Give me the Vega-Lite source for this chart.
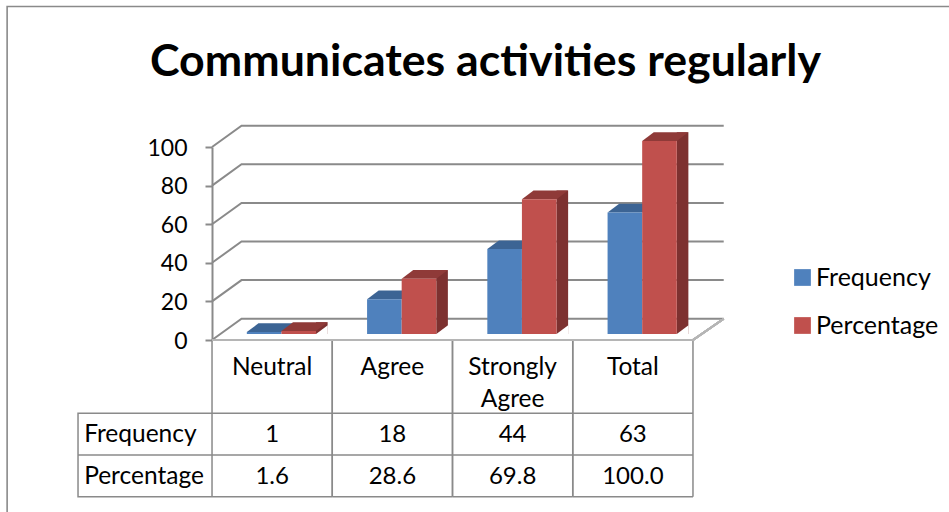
{
"$schema":"https://vega.github.io/schema/vega-lite/v6.json",
"width":481,"height":193,
"autosize":{"type":"none"},
"padding":{"left":212,"top":147,"right":256,"bottom":172},
"background":"white",
"title":{"text":"Communicates activities regularly","font":"Lato","fontSize":44.7,"fontWeight":"bold","color":"black","anchor":"middle","dx":33,"offset":-82},
"config":{"view":{"stroke":null},"font":"Lato"},
"datasets":{
"main":[
{"category":"Neutral","series":"Frequency","value":1},
{"category":"Agree","series":"Frequency","value":18},
{"category":"Strongly Agree","series":"Frequency","value":44},
{"category":"Total","series":"Frequency","value":63},
{"category":"Neutral","series":"Percentage","value":1.6},
{"category":"Agree","series":"Percentage","value":28.6},
{"category":"Strongly Agree","series":"Percentage","value":69.8},
{"category":"Total","series":"Percentage","value":100.0}
],
"ticks":[{"tick":0},{"tick":20},{"tick":40},{"tick":60},{"tick":80},{"tick":100}]
},
"data":{"name":"main"},
"resolve":{"scale":{"y":"shared","x":"shared","color":"shared"}},
"layer":[
{"data":{"name":"ticks"},"mark":{"type":"point","filled":false,"opacity":1,"size":4,"stroke":"#8a8a8a","strokeWidth":2,"shape":"M-60.1,0L-30.6,-21.3H451.6"},
 "encoding":{"x":{"datum":"Neutral","type":"nominal","scale":{"domain":["Neutral","Agree","Strongly Agree","Total"],"paddingInner":0,"paddingOuter":0},
   "axis":{"title":null,"ticks":false,"domain":false,"labelAngle":0,"labelFont":"Lato","labelFontSize":24.5,"labelColor":"black","labelPadding":15,"labelLineHeight":32,"labelLimit":0,"labelBaseline":"top","labelExpr":"split(datum.label,' ')"}},
   "y":{"field":"tick","type":"quantitative","scale":{"domain":[0,100],"nice":false},
   "axis":{"title":null,"values":[0,20,40,60,80,100],"tickCount":6,"grid":false,"labelOverlap":false,"domainColor":"#8a8a8a","domainWidth":2,"tickColor":"#8a8a8a","tickWidth":2,"tickSize":7,"labelFont":"Lato","labelFontSize":23,"labelColor":"black","labelPadding":18,"labelOffset":1}}}},
{"mark":{"type":"point","filled":false,"opacity":1,"size":4,"stroke":"#b5b5b5","strokeWidth":2,"shape":"M-60.1,0H420.8L451.6,-21.3"},
 "encoding":{"x":{"datum":"Neutral","type":"nominal"},"y":{"datum":0,"type":"quantitative"}}},
{"transform":[{"filter":"datum.series==='Frequency'"}],"mark":{"type":"point","filled":false,"opacity":1,"size":4,"stroke":"#8a8a8a","strokeWidth":1.5,"shape":"M-60.1,1V156.7M60.1,1V156.7M-60.1,73.3H60.1M-60.1,115H60.1M-60.1,156.7H60.1"},
 "encoding":{"x":{"field":"category","type":"nominal"},"y":{"datum":0,"type":"quantitative"}}},
{"transform":[{"filter":"datum.series==='Frequency' && datum.category==='Neutral'"}],"mark":{"type":"point","filled":false,"opacity":1,"size":4,"stroke":"#8a8a8a","strokeWidth":1.5,"shape":"M-60.1,73.3H-194.1V156.7H-60.1M-194.1,115H-60.1"},
 "encoding":{"x":{"field":"category","type":"nominal"},"y":{"datum":0,"type":"quantitative"}}},
{"transform":[{"filter":"datum.series==='Frequency' && datum.category==='Neutral'"}],"mark":{"type":"point","filled":false,"opacity":1,"size":4,"stroke":"#8a8a8a","strokeWidth":1.6,"shape":"M-265,172V-333.5H677"},
 "encoding":{"x":{"field":"category","type":"nominal"},"y":{"datum":0,"type":"quantitative"}}},
{"transform":[{"filter":"datum.series==='Frequency'"}],"mark":{"type":"point","filled":true,"opacity":1,"size":4,"strokeWidth":0,"color":"#3c6494","shape":"M-25.3,-6L-13.7,-14.7H20.9L9.3,-6Z"},
 "encoding":{"x":{"field":"category","type":"nominal"},"y":{"field":"value","type":"quantitative"}}},
{"transform":[{"filter":"datum.series==='Frequency'"}],"mark":{"type":"bar","width":34.6,"xOffset":-8,"yOffset":-6,"y2Offset":-6},
 "encoding":{"x":{"field":"category","type":"nominal"},"y":{"field":"value","type":"quantitative","stack":null},"y2":{"datum":0},
 "color":{"field":"series","type":"nominal","scale":{"domain":["Frequency","Percentage"],"range":["#4f81bd","#c0504d"]},
 "legend":{"title":null,"orient":"none","legendX":578,"legendY":118,"symbolType":"square","symbolSize":280,"symbolStrokeWidth":0,"labelFont":"Lato","labelFontSize":25,"labelColor":"black","labelOffset":1,"rowPadding":22}}}},
{"transform":[{"filter":"datum.series==='Percentage'"}],"mark":{"type":"bar","width":11.6,"xOffset":49.7,"yOffset":-14.7,"y2Offset":-6,"color":"#7d3130"},
 "encoding":{"x":{"field":"category","type":"nominal"},"y":{"field":"value","type":"quantitative","stack":null},"y2":{"datum":0}}},
{"transform":[{"filter":"datum.series==='Percentage'"}],"mark":{"type":"point","filled":true,"opacity":1,"size":4,"strokeWidth":0,"color":"white","shape":"M43.9,-6L55.6,-14.8V-5H43.9Z"},
 "encoding":{"x":{"field":"category","type":"nominal"},"y":{"datum":0,"type":"quantitative"}}},
{"transform":[{"filter":"datum.series==='Percentage'"}],"mark":{"type":"point","filled":true,"opacity":1,"size":4,"strokeWidth":0,"color":"#8f3a38","shape":"M9.3,-6L20.9,-14.7H55.5L43.9,-6Z"},
 "encoding":{"x":{"field":"category","type":"nominal"},"y":{"field":"value","type":"quantitative"}}},
{"transform":[{"filter":"datum.series==='Percentage'"}],"mark":{"type":"bar","width":34.6,"xOffset":26.6,"yOffset":-6,"y2Offset":-6},
 "encoding":{"x":{"field":"category","type":"nominal"},"y":{"field":"value","type":"quantitative","stack":null},"y2":{"datum":0},"color":{"field":"series","type":"nominal"}}},
{"transform":[{"filter":"datum.series==='Frequency'"}],"mark":{"type":"text","font":"Lato","fontSize":24,"color":"black","baseline":"middle","yOffset":95},
 "encoding":{"x":{"field":"category","type":"nominal"},"y":{"datum":0,"type":"quantitative"},"text":{"field":"value","type":"quantitative","format":"d"}}},
{"transform":[{"filter":"datum.series==='Percentage'"}],"mark":{"type":"text","font":"Lato","fontSize":24,"color":"black","baseline":"middle","yOffset":137},
 "encoding":{"x":{"field":"category","type":"nominal"},"y":{"datum":0,"type":"quantitative"},"text":{"field":"value","type":"quantitative","format":".1f"}}},
{"transform":[{"filter":"datum.series==='Frequency' && datum.category==='Neutral'"}],"mark":{"type":"text","font":"Lato","fontSize":24.5,"color":"black","align":"left","baseline":"middle","xOffset":-188,"yOffset":95},
 "encoding":{"x":{"field":"category","type":"nominal"},"y":{"datum":0,"type":"quantitative"},"text":{"field":"series","type":"nominal"}}},
{"transform":[{"filter":"datum.series==='Percentage' && datum.category==='Neutral'"}],"mark":{"type":"text","font":"Lato","fontSize":24.5,"color":"black","align":"left","baseline":"middle","xOffset":-188,"yOffset":137},
 "encoding":{"x":{"field":"category","type":"nominal"},"y":{"datum":0,"type":"quantitative"},"text":{"field":"series","type":"nominal"}}}
]
}
